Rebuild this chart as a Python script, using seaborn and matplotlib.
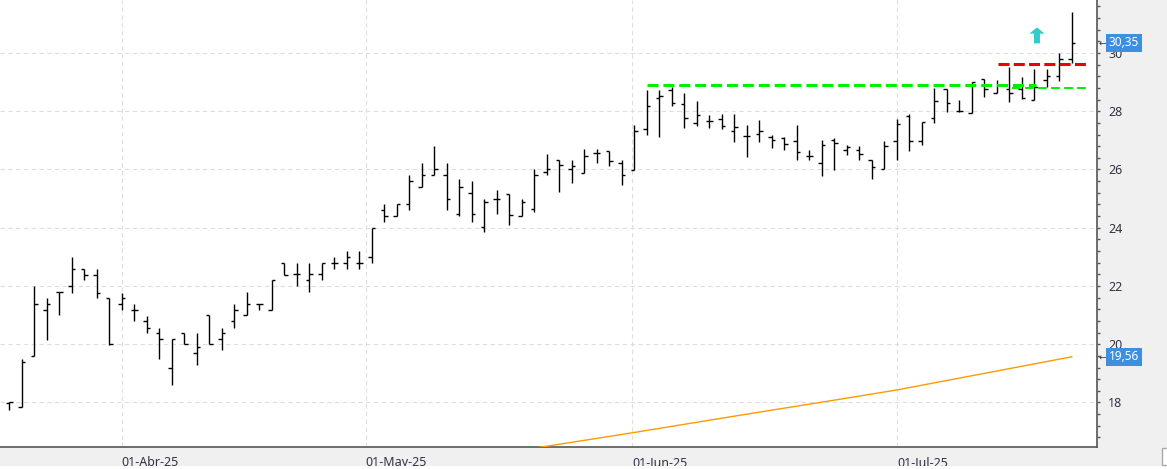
"""
OHLC bar chart (daily) with MA line and levels
"""
import numpy as np
import pandas as pd
import seaborn as sns
import matplotlib.pyplot as plt
import matplotlib.transforms as mtransforms
from matplotlib.ticker import MultipleLocator
from matplotlib.patches import Rectangle

sns.set_style("white")
plt.rcParams["font.family"] = ["Noto Sans", "DejaVu Sans"]

# ---- data ----
opens = [17.98, 17.83, 19.59, 21.17, 21.78, 22.00, 22.57, 22.38, 21.58, 21.39,
         21.17, 20.78, 20.38, 19.18, 20.38, 19.69, 20.99, 20.17, 20.78, 20.99,
         21.37, 21.17, 22.78, 22.40, 22.21, 22.40, 22.79, 22.79, 22.79, 22.98,
         24.60, 24.40, 24.80, 25.40, 25.80, 25.80, 24.48, 25.20, 24.02, 25.00,
         25.15, 24.40, 24.66, 25.92, 26.32, 26.00, 25.89, 26.57, 26.62, 26.21,
         25.99, 27.40, 28.44, 28.72, 28.24, 27.61, 27.66, 27.75, 27.31, 27.14,
         27.21, 27.11, 27.09, 26.97, 26.46, 26.23, 27.00, 26.66, 26.68, 26.33,
         26.02, 26.97, 27.84, 26.98, 27.78, 28.75, 28.00, 27.94, 29.10, 28.63,
         28.75, 28.75, 28.40, 29.07, 29.21, 29.78]
highs = [18.00, 19.49, 22.00, 21.57, 21.78, 22.99, 22.57, 22.57, 21.58, 21.77,
         21.39, 20.97, 20.57, 20.17, 20.38, 20.38, 20.99, 20.57, 21.37, 21.78,
         21.37, 22.19, 22.78, 22.80, 22.79, 22.79, 22.98, 23.21, 23.21, 24.00,
         24.80, 24.80, 25.80, 26.21, 26.80, 26.21, 25.69, 25.60, 25.00, 25.31,
         25.15, 25.00, 26.00, 26.52, 26.32, 26.32, 26.69, 26.69, 26.64, 26.32,
         27.52, 28.72, 28.72, 28.82, 28.61, 28.34, 27.86, 27.90, 27.89, 27.52,
         27.69, 27.17, 27.11, 27.52, 26.66, 27.00, 27.09, 26.83, 26.79, 26.33,
         26.98, 27.75, 27.90, 27.63, 28.80, 28.75, 28.40, 29.01, 29.10, 29.07,
         29.53, 29.18, 29.45, 29.45, 30.00, 31.40]
lows = [17.74, 17.83, 19.59, 20.16, 20.99, 21.77, 22.19, 21.58, 19.98, 21.17,
        20.78, 20.37, 19.49, 18.59, 20.00, 19.28, 20.00, 19.79, 20.57, 20.99,
        21.17, 21.17, 22.38, 22.00, 21.80, 22.21, 22.59, 22.59, 22.59, 22.79,
        24.20, 24.40, 24.60, 25.40, 25.80, 24.60, 24.40, 24.20, 23.85, 24.48,
        24.11, 24.40, 24.54, 25.80, 25.23, 25.54, 25.89, 26.21, 26.11, 25.48,
        25.97, 27.17, 27.11, 28.18, 27.43, 27.49, 27.43, 27.40, 26.94, 26.43,
        26.94, 26.74, 26.68, 26.33, 26.31, 25.79, 25.99, 26.50, 26.34, 25.68,
        26.02, 26.33, 26.63, 26.85, 27.60, 27.98, 27.98, 27.94, 28.49, 28.61,
        28.32, 28.41, 28.40, 28.84, 29.05, 29.64]
closes = [18.00, 19.39, 21.39, 21.39, 21.78, 22.57, 22.38, 21.77, 20.00, 21.58,
          21.17, 20.57, 20.17, 20.17, 20.00, 19.89, 20.00, 20.38, 21.17, 21.39,
          21.37, 22.19, 22.38, 22.40, 22.40, 22.79, 22.79, 22.98, 22.79, 24.00,
          24.40, 24.80, 25.60, 25.80, 26.00, 25.00, 25.40, 24.48, 24.88, 25.00,
          24.43, 24.88, 25.80, 26.03, 26.15, 26.13, 26.46, 26.57, 26.30, 25.80,
          27.31, 28.17, 28.52, 28.30, 27.78, 27.86, 27.66, 27.49, 27.46, 27.14,
          27.32, 27.00, 26.89, 26.60, 26.48, 26.83, 26.91, 26.77, 26.52, 26.10,
          26.80, 27.55, 26.98, 27.63, 28.34, 28.30, 28.00, 29.00, 28.78, 28.90,
          28.61, 28.44, 28.84, 29.21, 29.78, 30.35]

# media movil (orange)
ma_idx = [42, 50, 58, 66, 71, 78, 85]
ma_val = [16.43, 16.97, 17.53, 18.08, 18.43, 19.00, 19.57]

# etiquetas de fecha
month_pos = [9, 28.5, 49.8, 71]
month_labels = ["01-Abr-25", "01-May-25", "01-Jun-25", "01-Jul-25"]

# niveles
green_level = 28.90
green_span = [51, 82.1]
green2_level = 28.80
green2_span = [80.2, 86.1]
red_level = 29.62
red_span = [79.1, 86.1]
arrow_at = [82.2, 30.33, 30.88]

df = pd.DataFrame({"i": np.arange(len(opens)), "open": opens, "high": highs,
                   "low": lows, "close": closes})

# ---- figure ----
fig = plt.figure(figsize=(11.67, 4.69), dpi=100, facecolor="#f0f0f0")
ax = fig.add_axes([0, 22 / 469, 1097 / 1167, 447 / 469])
ax.set_facecolor("white")

# barras OHLC
ax.vlines(df["i"], df["low"], df["high"], color="black", lw=1.0, zorder=3)
ax.hlines(df["open"], df["i"] - 0.28, df["i"], color="black", lw=1.0, zorder=3)
ax.hlines(df["close"], df["i"], df["i"] + 0.28, color="black", lw=1.0, zorder=3)

sns.lineplot(x=ma_idx, y=ma_val, color="#ff9a00", lw=1.0, ax=ax, zorder=3)

ax.plot(green_span, [green_level] * 2, color="#00ee00", lw=2.2,
        linestyle=(0, (3.6, 1.6)), solid_capstyle="butt", zorder=4)
ax.plot(green2_span, [green2_level] * 2, color="#00ee00", lw=1.4,
        linestyle=(0, (4.5, 2.2)), zorder=4)
ax.plot(red_span, [red_level] * 2, color="#ee0000", lw=2.2,
        linestyle=(0, (3.6, 1.4)), zorder=4)

ax.annotate("", xy=(arrow_at[0], arrow_at[2]), xytext=(arrow_at[0], arrow_at[1]),
            arrowprops=dict(arrowstyle="simple,head_length=0.45,head_width=1.1,tail_width=0.43",
                            color="#33cccc", lw=0, shrinkA=0, shrinkB=0,
                            mutation_scale=10), zorder=5)

ax.set_xlim(-0.74, 87.0)
ax.set_ylim(16.47, 31.82)

# ejes
ax.yaxis.tick_right()
ax.set_yticks(range(18, 31, 2))
ax.yaxis.set_minor_locator(MultipleLocator(0.4))
ax.tick_params(axis="y", which="both", length=2.5, width=1, color="#555555",
               direction="out", labelsize=9, labelcolor="#333344", pad=5.5)
ax.set_xticks(month_pos, month_labels)
ax.tick_params(axis="x", length=6, width=1, color="#555555", direction="out",
               labelsize=9, labelcolor="#333344", pad=0.5)
for lab in ax.get_xticklabels():
    lab.set_ha("left")

ax.grid(True, which="major", color="#dedede", lw=0.8, linestyle=(0, (4, 3)))
for s in ["left", "top"]:
    ax.spines[s].set_visible(False)
for s in ["right", "bottom"]:
    ax.spines[s].set_visible(True)
    ax.spines[s].set_color("#555555")
    ax.spines[s].set_linewidth(1.2)

# etiquetas de precio
trans = mtransforms.blended_transform_factory(fig.transFigure, ax.transData)
for val, txt in [(closes[-1], "30,35"), (ma_val[-1], "19,56")]:
    ax.text(1124 / 1167, val, txt, transform=trans, ha="center", va="center",
            color="white", fontsize=8.5,
            bbox=dict(boxstyle="square,pad=0.22", fc="#3d8fe0", ec="none"),
            zorder=10, clip_on=False)
    ax.text(1102 / 1167, val, "←", transform=trans, ha="center", va="center",
            color="#333333", fontsize=6.5, zorder=11, clip_on=False)

fig.add_artist(Rectangle((0, 0), 1, 3 / 469, transform=fig.transFigure,
                         fc="white", ec="none"))
fig.add_artist(Rectangle((1162 / 1167, 4 / 469), 10 / 1167, 17 / 469,
                         transform=fig.transFigure, fc="white", ec="#aaaaaa", lw=1))

fig.savefig("out.png", dpi=100, facecolor=fig.get_facecolor())
